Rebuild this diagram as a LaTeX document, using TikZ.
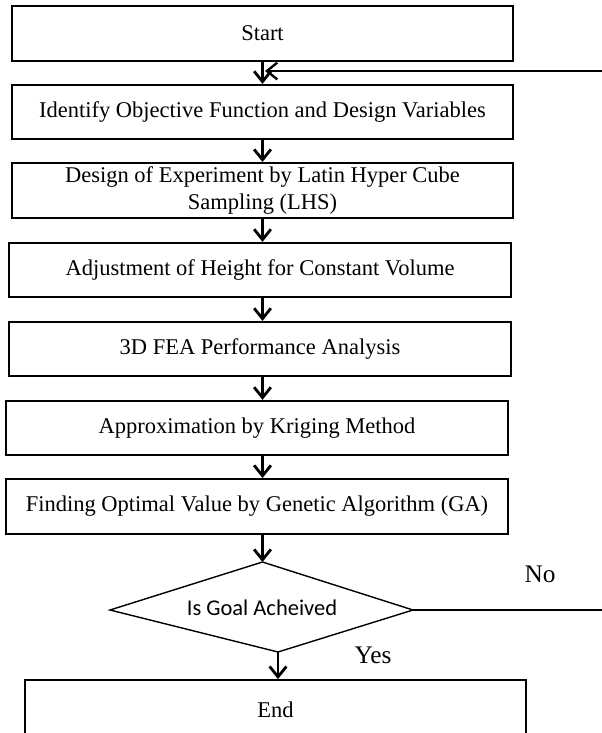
\documentclass[tikz,border=0pt]{standalone}
\usepackage{fontspec}
\setmainfont{Liberation Serif}
\newfontfamily\goalfont{Carlito}
\usepackage{tikz}
\usetikzlibrary{arrows.meta}

\begin{document}
\begin{tikzpicture}[
        x=0.025cm, y=-0.025cm,
        procbox/.style={rectangle, draw=black, line width=1.3pt, minimum width=12.53cm, minimum height=1.36cm, inner sep=0pt, align=center, font=\fontsize{16}{19}\selectfont},
        answer/.style={font=\fontsize{18}{20}\selectfont, inner sep=0pt},
        arrow/.style={-{Straight Barb[length=2.6mm, width=4.2mm, line width=2pt]}, line width=2pt},
        backline/.style={-{Straight Barb[length=2.6mm, width=4.2mm, line width=1.7pt]}, line width=1.7pt}
    ]
        \useasboundingbox (0,0) rectangle (601,733);

        % Process steps
        \node[procbox, minimum height=1.38cm] (start) at (262.5,33.5) {Start};
        \node[procbox] (ident) at (262.5,112) {Identify Objective Function and Design Variables};
        \node[procbox, minimum height=1.38cm] (doe) at (262.5,190.5) {Design of Experiment by Latin Hyper Cube\\Sampling (LHS)};
        \node[procbox, minimum width=12.55cm] (adjust) at (260,270) {Adjustment of Height for Constant Volume};
        \node[procbox, minimum width=12.55cm] (fea) at (260,349) {3D FEA Performance Analysis};
        \node[procbox, minimum width=12.55cm] (kriging) at (257,428) {Approximation by Kriging Method};
        \node[procbox, minimum width=12.55cm, minimum height=1.38cm] (ga) at (257,506.5) {Finding Optimal Value by Genetic Algorithm (GA)};

        % Decision
        \coordinate (dtop) at (262.5,562);
        \coordinate (dright) at (413,610);
        \coordinate (dbot) at (278,652);
        \coordinate (dleft) at (110,610);
        \draw[line width=1pt] (dtop) -- (dright) -- (dbot) -- (dleft) -- cycle;
        \node[font=\goalfont\fontsize{16}{18}\selectfont, inner sep=0pt] (goal) at (262,608) {Is Goal Acheived};
        \node[answer] (no) at (540,574) {No};
        \node[answer] (yes) at (373,655) {Yes};

        % End
        \node[procbox, minimum width=12.53cm, minimum height=1.5cm] (finish) at (527,710) [anchor=east] {End};

        % Arrows
        \foreach \a/\b in {start/ident, ident/doe, doe/adjust, adjust/fea, fea/kriging, kriging/ga}
            \draw[arrow] (\a.south -| start) -- (\b.north -| start);
        \draw[arrow] (ga.south -| start) -- (dtop);
        \draw[arrow] (dbot) -- (finish.north -| dbot);

        % Loop back
        \coordinate (rim) at (608,71);
        \coordinate (merge) at (265,71);
        \draw[backline] (dright) -- (rim |- dright) -- (rim) -- (merge);
    \end{tikzpicture}
\end{document}
